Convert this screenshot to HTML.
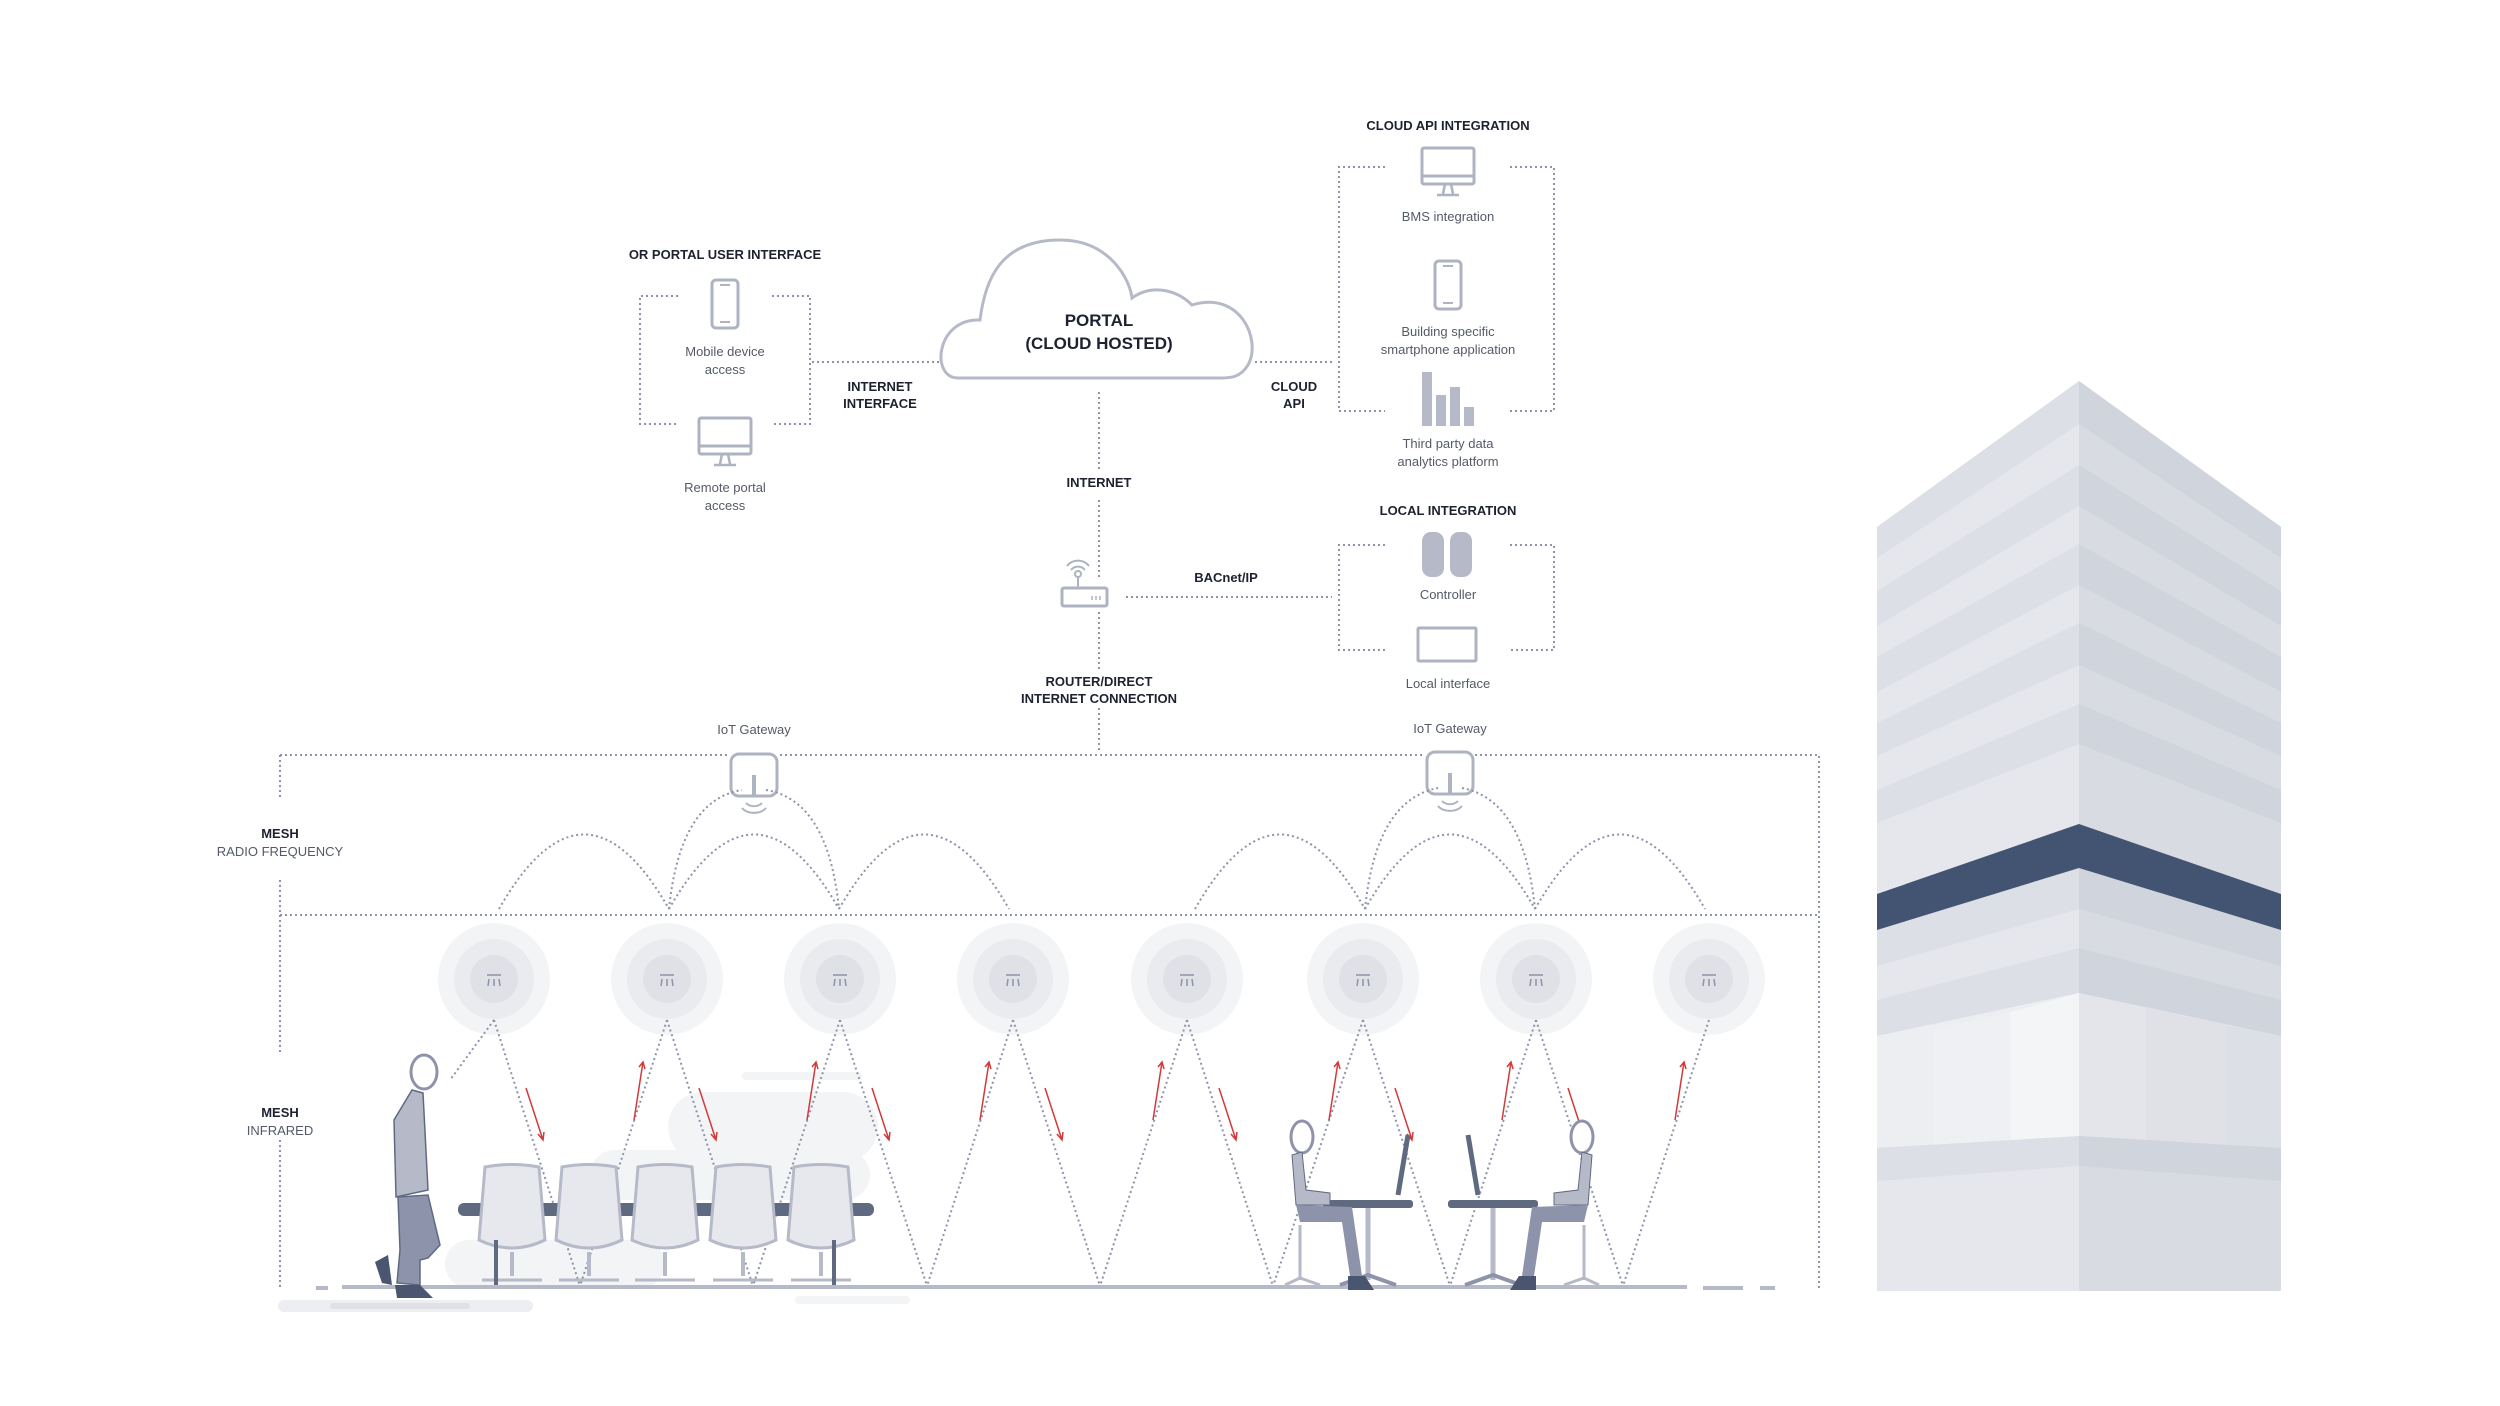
<!DOCTYPE html>
<html><head><meta charset="utf-8"><style>
html,body{margin:0;padding:0;background:#fff}
svg{display:block}
text{font-family:"Liberation Sans",sans-serif}
.b{font-weight:bold;font-size:13px;fill:#1e2230}
.n{font-size:13px;fill:#555a68}
.d{fill:none;stroke:#8d93aa;stroke-width:2;stroke-dasharray:2 3}
.ic{fill:#fff;stroke:#aeb3c2;stroke-width:3}
</style></head><body>
<svg width="2500" height="1406" viewBox="0 0 2500 1406">
<!-- building -->
<g>
<polygon points="1877,527 2079,381 2079,1291 1877,1291" fill="#e5e7ec"/>
<polygon points="2079,381 2281,527 2281,1291 2079,1291" fill="#d8dbe2"/>
<g fill="#dcdfe5">
<polygon points="1877,527 2079,381 2079,424 1877,558"/>
<polygon points="1877,591 2079,465 2079,506 1877,626"/>
<polygon points="1877,657 2079,544 2079,585 1877,692"/>
<polygon points="1877,723 2079,623 2079,665 1877,756"/>
<polygon points="1877,790 2079,704 2079,744 1877,823"/>
<polygon points="1877,930 2079,868 2079,909 1877,966"/>
<polygon points="1877,1000 2079,948 2079,993 1877,1036"/>
</g>
<g fill="#d0d4dc">
<polygon points="2281,527 2079,381 2079,424 2281,558"/>
<polygon points="2281,591 2079,465 2079,506 2281,626"/>
<polygon points="2281,657 2079,544 2079,585 2281,692"/>
<polygon points="2281,723 2079,623 2079,665 2281,756"/>
<polygon points="2281,790 2079,704 2079,744 2281,823"/>
<polygon points="2281,930 2079,868 2079,909 2281,966"/>
<polygon points="2281,1000 2079,948 2079,993 2281,1036"/>
</g>
<polygon points="1877,894 2079,824 2281,894 2281,930 2079,868 1877,930" fill="#435472"/>
<polygon points="1877,1036 2079,993 2079,1136 1877,1148" fill="#eceef2"/>
<polygon points="1933,1030 2011,1012 2011,1141 1933,1145" fill="#eff0f4"/>
<polygon points="2011,1012 2079,993 2079,1136 2011,1141" fill="#f4f5f7"/>
<polygon points="2079,993 2281,1036 2281,1148 2079,1136" fill="#e3e5ea"/>
<polygon points="2146,1008 2226,1025 2226,1145 2146,1140" fill="#dfe1e7"/>
<polygon points="2226,1025 2281,1036 2281,1148 2226,1145" fill="#dcdfe5"/>
<polygon points="1877,1148 2079,1136 2079,1166 1877,1181" fill="#dcdfe5"/>
<polygon points="2079,1136 2281,1148 2281,1181 2079,1166" fill="#d0d4dc"/>
</g>

<!-- top section -->
<text class="b" x="725" y="259" text-anchor="middle">OR PORTAL USER INTERFACE</text>
<path class="d" d="M678,296 H640 V424 H678 M772,296 H810 V424 H772"/>
<rect class="ic" x="712" y="280" width="26" height="48" rx="4"/>
<line x1="720" y1="285" x2="730" y2="285" stroke="#aeb3c2" stroke-width="2"/><line x1="720" y1="322" x2="730" y2="322" stroke="#aeb3c2" stroke-width="2"/>
<text class="n" x="725" y="356" text-anchor="middle">Mobile device</text>
<text class="n" x="725" y="374" text-anchor="middle">access</text>
<rect class="ic" x="699" y="418" width="52" height="36" rx="2"/><line x1="699" y1="446" x2="751" y2="446" stroke="#aeb3c2" stroke-width="3"/>
<path d="M722,454 L720,464 M728,454 L730,464 M714,465 H736" stroke="#aeb3c2" stroke-width="2.5"/>
<text class="n" x="725" y="492" text-anchor="middle">Remote portal</text>
<text class="n" x="725" y="510" text-anchor="middle">access</text>
<path class="d" d="M812,362 H942"/>
<text class="b" x="880" y="391" text-anchor="middle">INTERNET</text>
<text class="b" x="880" y="408" text-anchor="middle">INTERFACE</text>

<path d="M958,378 C930,378 936,318 980,320 C985,280 1000,240 1060,240 C1110,240 1130,280 1132,298 C1150,285 1175,288 1192,305 C1240,290 1262,340 1248,365 C1240,378 1230,378 1220,378 Z" fill="#fff" stroke="#b6bac8" stroke-width="3"/>
<text x="1099" y="326" text-anchor="middle" style="font-weight:bold;font-size:17px;fill:#1e2230">PORTAL</text>
<text x="1099" y="349" text-anchor="middle" style="font-weight:bold;font-size:17px;fill:#1e2230">(CLOUD HOSTED)</text>
<path class="d" d="M1255,362 H1335"/>
<text class="b" x="1294" y="391" text-anchor="middle">CLOUD</text>
<text class="b" x="1294" y="408" text-anchor="middle">API</text>

<text class="b" x="1448" y="130" text-anchor="middle">CLOUD API INTEGRATION</text>
<path class="d" d="M1385,167 H1339 V411 H1385 M1510,167 H1554 V411 H1510"/>
<rect class="ic" x="1422" y="148" width="52" height="36" rx="2"/><line x1="1422" y1="176" x2="1474" y2="176" stroke="#aeb3c2" stroke-width="3"/>
<path d="M1445,184 L1443,194 M1451,184 L1453,194 M1437,195 H1459" stroke="#aeb3c2" stroke-width="2.5"/>
<text class="n" x="1448" y="221" text-anchor="middle">BMS integration</text>
<rect class="ic" x="1435" y="261" width="26" height="48" rx="4"/>
<line x1="1443" y1="266" x2="1453" y2="266" stroke="#aeb3c2" stroke-width="2"/><line x1="1443" y1="303" x2="1453" y2="303" stroke="#aeb3c2" stroke-width="2"/>
<text class="n" x="1448" y="336" text-anchor="middle">Building specific</text>
<text class="n" x="1448" y="354" text-anchor="middle">smartphone application</text>
<g fill="#b6bac8"><rect x="1422" y="372" width="10" height="54"/><rect x="1436" y="395" width="10" height="31"/><rect x="1450" y="387" width="10" height="39"/><rect x="1464" y="407" width="10" height="19"/></g>
<text class="n" x="1448" y="448" text-anchor="middle">Third party data</text>
<text class="n" x="1448" y="466" text-anchor="middle">analytics platform</text>

<path class="d" d="M1099,392 V470 M1099,500 V578 M1099,612 V670 M1099,708 V752"/>
<text class="b" x="1099" y="487" text-anchor="middle">INTERNET</text>
<rect class="ic" x="1062" y="588" width="45" height="18" rx="2"/>
<line x1="1078" y1="588" x2="1078" y2="576" stroke="#aeb3c2" stroke-width="2"/><circle cx="1078" cy="574" r="3" fill="none" stroke="#aeb3c2" stroke-width="2"/>
<path d="M1071,570 a9,9 0 0 1 14,0 M1067,566 a14,14 0 0 1 22,0" fill="none" stroke="#aeb3c2" stroke-width="2"/>
<path d="M1092,596 v4 M1096,596 v4 M1100,596 v4" stroke="#aeb3c2" stroke-width="1.5"/>
<text class="b" x="1226" y="582" text-anchor="middle">BACnet/IP</text>
<path class="d" d="M1126,597 H1332"/>
<text class="b" x="1099" y="686" text-anchor="middle">ROUTER/DIRECT</text>
<text class="b" x="1099" y="703" text-anchor="middle">INTERNET CONNECTION</text>

<text class="b" x="1448" y="515" text-anchor="middle">LOCAL INTEGRATION</text>
<path class="d" d="M1385,545 H1339 V650 H1385 M1510,545 H1554 V650 H1510"/>
<rect x="1422" y="532" width="22" height="45" rx="9" fill="#b6bac8"/><rect x="1450" y="532" width="22" height="45" rx="9" fill="#b6bac8"/>
<text class="n" x="1448" y="599" text-anchor="middle">Controller</text>
<rect class="ic" x="1418" y="628" width="58" height="33" rx="1"/>
<text class="n" x="1448" y="688" text-anchor="middle">Local interface</text>

<!-- mesh frame -->
<path class="d" d="M280,755 H730 M780,755 H1425 M1475,755 H1819 V1288 M280,755 V800 M280,880 V1055 M280,1140 V1288"/>
<path class="d" d="M280,915 H1819"/>
<text class="b" x="280" y="838" text-anchor="middle">MESH</text>
<text class="n" x="280" y="856" text-anchor="middle">RADIO FREQUENCY</text>
<text class="b" x="280" y="1117" text-anchor="middle">MESH</text>
<text class="n" x="280" y="1135" text-anchor="middle">INFRARED</text>

<text class="n" x="754" y="734" text-anchor="middle">IoT Gateway</text>
<text class="n" x="1450" y="733" text-anchor="middle">IoT Gateway</text>
<g>
<rect class="ic" x="731" y="754" width="46" height="42" rx="8"/><line x1="754" y1="775" x2="754" y2="796" stroke="#aeb3c2" stroke-width="4"/>
<path d="M746,803 a10,8 0 0 0 16,0 M742,808 a14,10 0 0 0 24,0" fill="none" stroke="#aeb3c2" stroke-width="2"/>
<rect class="ic" x="1427" y="752" width="46" height="42" rx="8"/><line x1="1450" y1="773" x2="1450" y2="794" stroke="#aeb3c2" stroke-width="4"/>
<path d="M1442,801 a10,8 0 0 0 16,0 M1438,806 a14,10 0 0 0 24,0" fill="none" stroke="#aeb3c2" stroke-width="2"/>
</g>
<!-- RF arcs -->
<g class="d">
<path d="M499,909 Q584,760 669,909"/><path d="M669,909 Q754,760 839,909"/><path d="M839,909 Q924,760 1009,909"/>
<path d="M669,909 Q680,800 742,790 M766,790 Q828,800 839,909"/>
<path d="M1195,909 Q1280,760 1365,909"/><path d="M1365,909 Q1450,760 1535,909"/><path d="M1535,909 Q1620,760 1705,909"/>
<path d="M1365,909 Q1376,800 1438,788 M1462,788 Q1524,800 1535,909"/>
</g>
<!-- background blobs -->
<g fill="#f3f4f6">
<rect x="742" y="1072" width="120" height="8" rx="4"/>
<rect x="668" y="1092" width="210" height="70" rx="35"/>
<rect x="590" y="1150" width="280" height="50" rx="25"/>
<rect x="445" y="1240" width="220" height="48" rx="24"/>
<rect x="795" y="1296" width="115" height="8" rx="4"/>
</g>
<!-- sensors -->
<g id="sen">
</g>
<g>
<g transform="translate(494,979)"><circle r="56" fill="#f3f4f6"/><circle r="40" fill="#eaebef"/><circle r="24" fill="#dfe1e7"/><path d="M-7,-4 h14 M-5,0 l-1,7 M0,0 v7 M5,0 l1,7" stroke="#8d93aa" stroke-width="1.5"/></g>
<g transform="translate(667,979)"><circle r="56" fill="#f3f4f6"/><circle r="40" fill="#eaebef"/><circle r="24" fill="#dfe1e7"/><path d="M-7,-4 h14 M-5,0 l-1,7 M0,0 v7 M5,0 l1,7" stroke="#8d93aa" stroke-width="1.5"/></g>
<g transform="translate(840,979)"><circle r="56" fill="#f3f4f6"/><circle r="40" fill="#eaebef"/><circle r="24" fill="#dfe1e7"/><path d="M-7,-4 h14 M-5,0 l-1,7 M0,0 v7 M5,0 l1,7" stroke="#8d93aa" stroke-width="1.5"/></g>
<g transform="translate(1013,979)"><circle r="56" fill="#f3f4f6"/><circle r="40" fill="#eaebef"/><circle r="24" fill="#dfe1e7"/><path d="M-7,-4 h14 M-5,0 l-1,7 M0,0 v7 M5,0 l1,7" stroke="#8d93aa" stroke-width="1.5"/></g>
<g transform="translate(1187,979)"><circle r="56" fill="#f3f4f6"/><circle r="40" fill="#eaebef"/><circle r="24" fill="#dfe1e7"/><path d="M-7,-4 h14 M-5,0 l-1,7 M0,0 v7 M5,0 l1,7" stroke="#8d93aa" stroke-width="1.5"/></g>
<g transform="translate(1363,979)"><circle r="56" fill="#f3f4f6"/><circle r="40" fill="#eaebef"/><circle r="24" fill="#dfe1e7"/><path d="M-7,-4 h14 M-5,0 l-1,7 M0,0 v7 M5,0 l1,7" stroke="#8d93aa" stroke-width="1.5"/></g>
<g transform="translate(1536,979)"><circle r="56" fill="#f3f4f6"/><circle r="40" fill="#eaebef"/><circle r="24" fill="#dfe1e7"/><path d="M-7,-4 h14 M-5,0 l-1,7 M0,0 v7 M5,0 l1,7" stroke="#8d93aa" stroke-width="1.5"/></g>
<g transform="translate(1709,979)"><circle r="56" fill="#f3f4f6"/><circle r="40" fill="#eaebef"/><circle r="24" fill="#dfe1e7"/><path d="M-7,-4 h14 M-5,0 l-1,7 M0,0 v7 M5,0 l1,7" stroke="#8d93aa" stroke-width="1.5"/></g>
</g>
<!-- IR lines -->
<g class="d">
<path d="M494,1020 L450,1080 M494,1020 L580,1286"/>
<path d="M667,1020 L580,1286 M667,1020 L753,1286"/>
<path d="M840,1020 L753,1286 M840,1020 L927,1286"/>
<path d="M1013,1020 L927,1286 M1013,1020 L1100,1286"/>
<path d="M1187,1020 L1100,1286 M1187,1020 L1273,1286"/>
<path d="M1363,1020 L1273,1286 M1363,1020 L1450,1286"/>
<path d="M1536,1020 L1450,1286 M1536,1020 L1623,1286"/>
<path d="M1709,1020 L1623,1286"/>
</g>
<g stroke="#d23a3a" stroke-width="1.5" fill="none">
<path d="M526,1088 L543,1140 M538,1134 l5,6 l1,-8"/>
<path d="M634,1120 L643,1062 M639,1067 l4,-5 l2,7"/>
<path d="M699,1088 L716,1140 M711,1134 l5,6 l1,-8"/>
<path d="M807,1120 L816,1062 M812,1067 l4,-5 l2,7"/>
<path d="M872,1088 L889,1140 M884,1134 l5,6 l1,-8"/>
<path d="M980,1120 L989,1062 M985,1067 l4,-5 l2,7"/>
<path d="M1045,1088 L1062,1140 M1057,1134 l5,6 l1,-8"/>
<path d="M1153,1120 L1162,1062 M1158,1067 l4,-5 l2,7"/>
<path d="M1219,1088 L1236,1140 M1231,1134 l5,6 l1,-8"/>
<path d="M1329,1120 L1338,1062 M1334,1067 l4,-5 l2,7"/>
<path d="M1395,1088 L1412,1140 M1407,1134 l5,6 l1,-8"/>
<path d="M1502,1120 L1511,1062 M1507,1067 l4,-5 l2,7"/>
<path d="M1568,1088 L1585,1140 M1580,1134 l5,6 l1,-8"/>
<path d="M1675,1120 L1684,1062 M1680,1067 l4,-5 l2,7"/>
</g>
<!-- floor -->
<rect x="278" y="1300" width="255" height="12" rx="6" fill="#eceef2"/>
<rect x="330" y="1303" width="140" height="6" rx="3" fill="#dfe1e7"/>
<rect x="316" y="1286" width="12" height="4" fill="#b6bac8"/>
<rect x="342" y="1285" width="1345" height="4" fill="#b6bac8"/>
<rect x="1703" y="1286" width="40" height="4" fill="#b6bac8"/>
<rect x="1760" y="1286" width="15" height="4" fill="#b6bac8"/>
<!-- table and chairs -->
<rect x="458" y="1203" width="416" height="13" rx="6" fill="#5f6a80"/>
<g fill="#e6e8ed" stroke="#b6bac8" stroke-width="3">
<path d="M485,1167 Q512,1162 539,1167 L545,1240 Q512,1256 479,1240 Z"/>
<path d="M562,1167 Q589,1162 616,1167 L622,1240 Q589,1256 556,1240 Z"/>
<path d="M638,1167 Q665,1162 692,1167 L698,1240 Q665,1256 632,1240 Z"/>
<path d="M716,1167 Q743,1162 770,1167 L776,1240 Q743,1256 710,1240 Z"/>
<path d="M794,1167 Q821,1162 848,1167 L854,1240 Q821,1256 788,1240 Z"/>
</g>
<g stroke="#b6bac8" stroke-width="4">
<path d="M512,1252 V1276 M589,1252 V1276 M665,1252 V1276 M743,1252 V1276 M821,1252 V1276"/>
<path d="M482,1280 H542 M559,1280 H619 M635,1280 H695 M713,1280 H773 M791,1280 H851" stroke-width="3"/>
</g>
<path d="M496,1240 V1285 M834,1240 V1285" stroke="#5f6a80" stroke-width="4"/>
<!-- standing person -->
<ellipse cx="424" cy="1072" rx="13" ry="17" fill="#fff" stroke="#8d93aa" stroke-width="3"/>
<path d="M412,1090 L423,1093 L428,1190 L396,1197 L394,1120 Z" fill="#b6bac8" stroke="#5f6a80" stroke-width="1.5"/>
<path d="M398,1197 L428,1195 L440,1245 L428,1258 L420,1260 L420,1285 L397,1283 L400,1250 Z" fill="#8d93aa" stroke="#5f6a80" stroke-width="1.5"/>
<path d="M375,1262 L388,1255 L392,1285 L382,1283 Z M395,1285 L420,1285 L433,1298 L397,1298 Z" fill="#4a5670"/>
<!-- desks -->
<rect x="1323" y="1200" width="90" height="8" rx="3" fill="#5f6a80"/>
<rect x="1448" y="1200" width="90" height="8" rx="3" fill="#5f6a80"/>
<path d="M1368,1208 V1280 M1493,1208 V1280" stroke="#b6bac8" stroke-width="5"/>
<path d="M1340,1285 L1368,1275 L1396,1285 M1465,1285 L1493,1275 L1521,1285" stroke="#8d93aa" stroke-width="4" fill="none"/>
<path d="M1398,1195 L1408,1135 M1478,1195 L1468,1135" stroke="#5f6a80" stroke-width="5"/>
<!-- seated people -->
<ellipse cx="1302" cy="1137" rx="11" ry="16" fill="#fff" stroke="#8d93aa" stroke-width="3"/>
<path d="M1292,1155 L1302,1152 L1306,1190 L1330,1193 L1330,1205 L1296,1205 Z" fill="#b6bac8" stroke="#5f6a80" stroke-width="1"/>
<path d="M1296,1205 L1352,1207 L1362,1276 L1350,1276 L1342,1222 L1300,1222 Z" fill="#8d93aa"/>
<path d="M1348,1276 L1365,1276 L1374,1290 L1348,1290 Z" fill="#4a5670"/>
<path d="M1300,1225 V1280 M1285,1285 L1300,1278 L1320,1285" stroke="#b6bac8" stroke-width="3" fill="none"/>
<ellipse cx="1582" cy="1137" rx="11" ry="16" fill="#fff" stroke="#8d93aa" stroke-width="3"/>
<path d="M1592,1155 L1582,1152 L1578,1190 L1554,1193 L1554,1205 L1588,1205 Z" fill="#b6bac8" stroke="#5f6a80" stroke-width="1"/>
<path d="M1588,1205 L1532,1207 L1522,1276 L1534,1276 L1542,1222 L1584,1222 Z" fill="#8d93aa"/>
<path d="M1536,1276 L1519,1276 L1510,1290 L1536,1290 Z" fill="#4a5670"/>
<path d="M1584,1225 V1280 M1599,1285 L1584,1278 L1564,1285" stroke="#b6bac8" stroke-width="3" fill="none"/>
</svg>
</body></html>
